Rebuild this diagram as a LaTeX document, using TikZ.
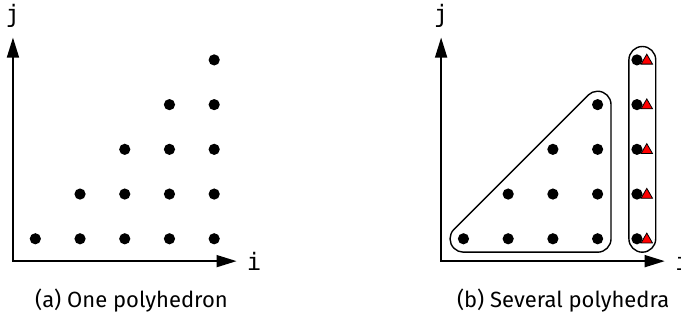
\documentclass[tikz,border=0pt]{standalone}
\usepackage{fontspec}
\setsansfont{Fira Sans}
\setmonofont{DejaVu Sans Mono}
\usetikzlibrary{arrows.meta,positioning,shapes.geometric}

\begin{document}
\begin{tikzpicture}[
    x=22.35pt, y=22.35pt,
    font=\sffamily\fontsize{11}{13}\selectfont,
    axis/.style={line width=0.8pt, {Triangle[length=10pt,width=6pt]}-{Triangle[length=10pt,width=6pt]}},
    dot/.style={circle, fill=black, inner sep=0pt, minimum size=5.6pt},
    tri/.style={regular polygon, regular polygon sides=3, draw=black, fill=red, line width=0.4pt, inner sep=0pt, minimum size=6.6pt},
    hull/.style={draw=black, line width=0.7pt},
    axlabel/.style={font=\ttfamily\fontsize{12}{14}\selectfont, inner sep=0pt}
  ]
  \useasboundingbox (-0.29,-1.365) rectangle (14.94,5.84);

  % (a) un seul polyedre
  \coordinate (oa) at (0,0);
  \coordinate (xa) at (5,0);
  \coordinate (ya) at (0,5);
  \draw[axis] (ya) -- (oa) -- (xa);
  \node[axlabel, right=5pt of xa] (ia) {i};
  \node[axlabel, above=5pt of ya] (ja) {j};
  \foreach \i in {1,...,5}
    \foreach \j in {1,...,\i}
      \node[dot] (a-\i-\j) at (\i-0.5,\j-0.5) {};
  \node (capa) at (2.65,-0.88) {(a) One polyhedron};

  % (b) plusieurs polyedres
  \begin{scope}[shift={(9.575,0)}]
    \coordinate (ob) at (0,0);
    \coordinate (xb) at (5,0);
    \coordinate (yb) at (0,5);
    \draw[axis] (yb) -- (ob) -- (xb);
    \node[axlabel, right=5pt of xb] (ib) {i};
    \node[axlabel, above=5pt of yb] (jb) {j};
    \foreach \i in {1,...,4}
      \foreach \j in {1,...,\i}
        \node[dot] (b-\i-\j) at (\i-0.5,\j-0.5) {};
    % derniere colonne
    \foreach \j in {1,...,5} {
      \node[dot] (b-5-\j) at (4.38,\j-0.5) {};
      \node[tri] (t-\j) at (4.6,\j-0.52) {};
    }
    % enveloppes
    \draw[hull] (0.288,0.712) arc[start angle=135, end angle=270, radius=0.3]
      -- (3.5,0.2) arc[start angle=270, end angle=360, radius=0.3]
      -- (3.8,3.5) arc[start angle=0, end angle=135, radius=0.3] -- cycle;
    \draw[hull, rounded corners=6.7pt] (4.2,0.2) rectangle (4.8,4.8);
    \node (capb) at (2.73,-0.88) {(b) Several polyhedra};
  \end{scope}
\end{tikzpicture}
\end{document}
